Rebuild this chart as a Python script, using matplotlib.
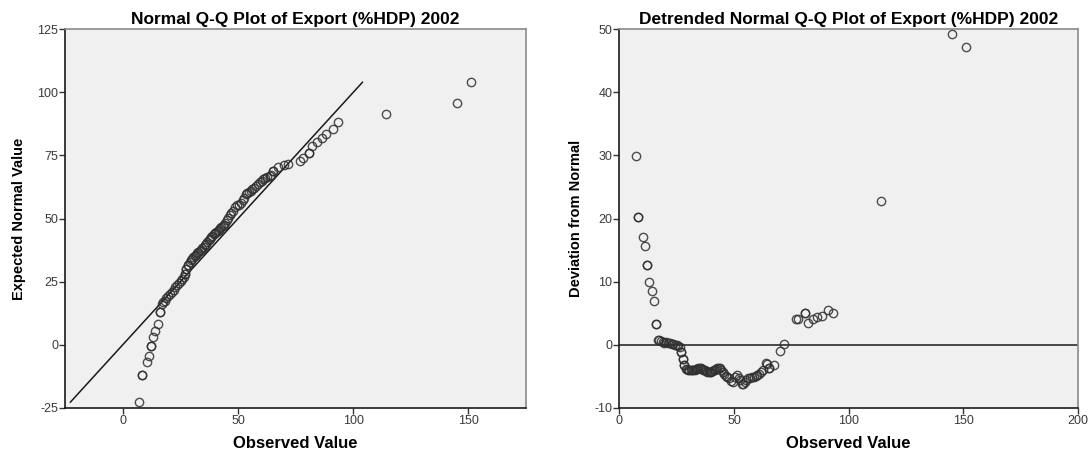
import matplotlib.pyplot as plt
import numpy as np

plt.rcParams['font.family'] = ['Liberation Sans', 'DejaVu Sans']
plt.rcParams['axes.unicode_minus'] = False

observed = [7.1, 8.2, 8.2, 10.3, 11.2, 12.1, 12.1, 13.0, 14.1, 15.1, 16.2, 16.2,
            16.9, 17.5, 18.1, 18.9, 19.6, 20.4, 21.2, 22.0, 22.8, 23.6, 24.4, 25.1, 25.8, 26.4,
            26.9, 26.9, 27.6, 27.6, 28.3, 28.3, 29.0,
            29.5, 30.1, 30.6, 31.2, 31.7, 32.3, 32.8, 33.4, 33.9, 34.5, 35.0, 35.6, 36.1, 36.7,
            37.2, 37.8, 38.3, 38.9, 39.4, 40.0, 40.5, 41.1, 41.6, 42.2, 42.7, 43.3, 43.8, 44.4,
            45.0, 45.7, 46.4, 47.1, 47.8, 48.6, 49.4, 50.3, 51.2, 52.0, 52.7, 53.4, 54.0, 54.6,
            55.4, 56.2, 57.0, 57.8, 58.6, 59.4, 60.2, 61.0, 61.8, 62.6, 64.0, 64.2, 65.1, 65.2, 67.3,
            70.0, 71.8, 77.0, 78.0, 80.9, 80.9, 82.1, 84.3, 86.3, 88.2, 91.1, 93.3,
            114.1, 145.1, 151.2]
deviation = [29.9, 20.3, 20.3, 17.1, 15.6, 12.7, 12.7, 9.9, 8.5, 6.9, 3.3, 3.3,
             0.75, 0.7, 0.65, 0.45, 0.2, 0.35, 0.3, 0.2, 0.15, 0.1, 0.0, -0.1, -0.15, -0.3,
             -1.1, -1.1, -2.3, -2.3, -3.3, -3.3, -3.8,
             -3.9, -4.0, -4.05, -4.05, -4.0, -4.0, -3.95, -3.9, -3.8, -3.7, -3.65, -3.7, -3.85, -4.0,
             -4.1, -4.25, -4.3, -4.35, -4.3, -4.3, -4.2, -4.05, -4.0, -3.9, -3.75, -3.65, -3.75, -3.95,
             -4.3, -4.6, -4.9, -5.1, -5.3, -5.8, -5.9, -5.1, -4.8, -5.3, -5.6, -6.3, -6.2, -6.0,
             -5.6, -5.35, -5.25, -5.15, -5.1, -5.0, -4.85, -4.7, -4.4, -4.0, -2.95, -3.0, -3.7, -3.7, -3.3,
             -1.05, 0.1, 4.1, 4.1, 5.0, 5.0, 3.4, 4.05, 4.45, 4.6, 5.5, 5.0,
             22.8, 49.3, 47.2]

observed = np.array(observed)
deviation = np.array(deviation)
expected = observed - deviation

left_title = "Normal Q-Q Plot of Export (%HDP) 2002"
right_title = "Detrended Normal Q-Q Plot of Export (%HDP) 2002"

W, H = 1089, 450
fig = plt.figure(figsize=(W / 100, H / 100), dpi=100)
ax1 = fig.add_axes([65.3 / W, 1 - 407.7 / H, 460.7 / W, 378.4 / H])
ax2 = fig.add_axes([619.3 / W, 1 - 407.7 / H, 458.7 / W, 378.4 / H])

mk = dict(marker='o', ls='none', ms=6, mfc='none', mec='#303030', mew=1.0, alpha=0.85)

def style(ax):
    ax.set_facecolor('#f0f0f0')
    for s in ['left', 'bottom']:
        ax.spines[s].set_color('#1a1a1a')
        ax.spines[s].set_linewidth(1.2)
    for s in ['top', 'right']:
        ax.spines[s].set_color('#8a8a8a')
        ax.spines[s].set_linewidth(1.2)
    ax.tick_params(direction='out', length=4, width=1, color='#333333',
                   labelsize=9, labelcolor='#3a3a3a', pad=1)

# left: normal Q-Q
ax1.plot([expected.min(), expected.max()], [expected.min(), expected.max()],
         color='#1a1a1a', lw=1.1)
ax1.plot(observed, expected, **mk)
ax1.set_xlim(-25, 175)
ax1.set_ylim(-25, 125)
ax1.set_xticks([0, 50, 100, 150])
ax1.set_yticks([-25, 0, 25, 50, 75, 100, 125])
ax1.set_title(left_title, fontsize=12.5, fontweight='bold', pad=4)
ax1.set_xlabel("Observed Value", fontsize=12, fontweight='bold', labelpad=7)
ax1.set_ylabel("Expected Normal Value", fontsize=10.5, fontweight='bold', labelpad=8)
style(ax1)

# right: detrended
ax2.axhline(0, color='#1a1a1a', lw=1.1)
ax2.plot(observed, deviation, **mk)
ax2.set_xlim(0, 200)
ax2.set_ylim(-10, 50)
ax2.set_xticks([0, 50, 100, 150, 200])
ax2.set_yticks([-10, 0, 10, 20, 30, 40, 50])
ax2.set_title(right_title, fontsize=12.5, fontweight='bold', pad=4)
ax2.set_xlabel("Observed Value", fontsize=12, fontweight='bold', labelpad=7)
ax2.set_ylabel("Deviation from Normal", fontsize=10.5, fontweight='bold', labelpad=8)
style(ax2)

plt.savefig("out.png", dpi=100)
